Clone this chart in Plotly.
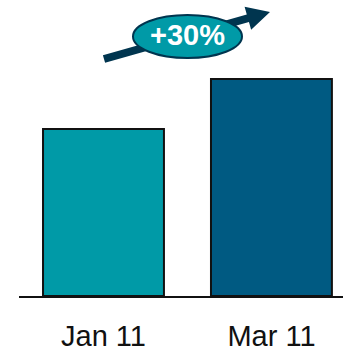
import math
import plotly.graph_objects as go

# Data
categories = ["Jan 11", "Mar 11"]
values = [100, 130]
bar_colors = ["#009AA7", "#005A82"]
growth_label = "+30%"

W, H = 343, 349
M_L, M_R, M_T, M_B = 19, 0, 0, 53
PW, PH = W - M_L - M_R, H - M_T - M_B

NAVY = "#00354F"
TEAL = "#009AA7"


def to_paper(x, y):
    """Convert pixel coordinates to paper fractions."""
    return (x - M_L) / PW, (M_T + PH - y) / PH


def arrow_path(tail, tip, shaft_w=8, head_len=23, head_half=12):
    tx, ty = tail
    hx, hy = tip
    dx, dy = hx - tx, hy - ty
    L = math.hypot(dx, dy)
    ux, uy = dx / L, dy / L
    nx, ny = -uy, ux
    bx, by = hx - ux * head_len, hy - uy * head_len
    pts = [
        (tx + nx * shaft_w / 2, ty + ny * shaft_w / 2),
        (bx + nx * shaft_w / 2, by + ny * shaft_w / 2),
        (bx + nx * head_half, by + ny * head_half),
        (hx, hy),
        (bx - nx * head_half, by - ny * head_half),
        (bx - nx * shaft_w / 2, by - ny * shaft_w / 2),
        (tx - nx * shaft_w / 2, ty - ny * shaft_w / 2),
    ]
    pp = [to_paper(*p) for p in pts]
    return "M " + " L ".join(f"{x:.5f},{y:.5f}" for x, y in pp) + " Z"


fig = go.Figure(
    go.Bar(
        x=categories,
        y=values,
        width=0.72,
        marker=dict(color=bar_colors, line=dict(color="#111111", width=2)),
    )
)

ex0, ey0 = to_paper(133, 58)
ex1, ey1 = to_paper(242, 15)
fig.add_shape(type="path", xref="paper", yref="paper",
              path=arrow_path((104, 59), (270, 12)),
              fillcolor=NAVY, line=dict(width=0))
fig.add_shape(type="circle", xref="paper", yref="paper",
              x0=ex0, y0=ey0, x1=ex1, y1=ey1,
              fillcolor=TEAL, line=dict(color=NAVY, width=2))
cx, cy = to_paper(187, 35)
fig.add_annotation(x=cx, y=cy, xref="paper", yref="paper", text=f"<b>{growth_label}</b>",
                   showarrow=False, xanchor="center", yanchor="middle",
                   font=dict(family="Liberation Sans, Arial", size=29, color="white"))

fig.update_layout(
    width=W, height=H,
    margin=dict(l=M_L, r=M_R, t=M_T, b=M_B),
    paper_bgcolor="white", plot_bgcolor="white",
    showlegend=False,
    xaxis=dict(range=[-0.503, 1.426], showline=True, linecolor="#111111", linewidth=1.5,
               ticks="", showgrid=False, zeroline=False, ticklabelstandoff=13,
               automargin=False,
               tickfont=dict(family="Liberation Sans, Arial", size=29, color="#111111")),
    yaxis=dict(range=[0, 177.3], visible=False, showgrid=False, zeroline=False,
               automargin=False),
)

fig.write_html("out.html")
